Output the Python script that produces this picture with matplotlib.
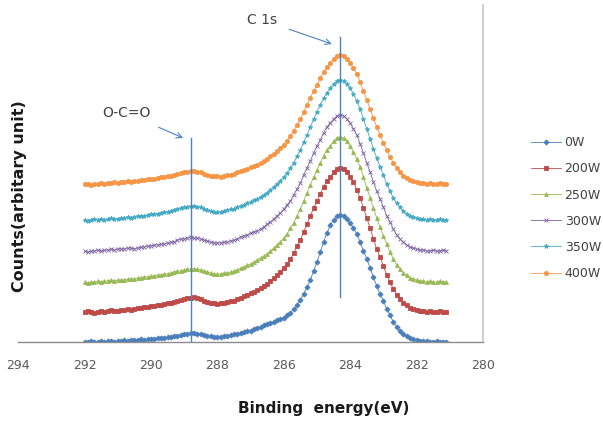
import numpy as np
import matplotlib
matplotlib.use("Agg")
import matplotlib.pyplot as plt

# Binding energy grid (eV), 292.0 -> 281.1 in 0.1 eV steps
energy = np.round(np.arange(292.0, 281.05, -0.1), 1)

labels = ["0W", "200W", "250W", "300W", "350W", "400W"]

counts_0W = [0, 0, 1, 0, 0, 1, 0, 1, 1, 0,
             1, 1, 2, 1, 2, 2, 2, 3, 2, 3,
             3, 3, 4, 4, 4, 5, 5, 6, 6, 7,
             8, 8, 9, 9, 8, 8, 7, 6, 6, 5,
             5, 5, 6, 6, 7, 8, 8, 9, 10, 11,
             11, 13, 14, 15, 17, 18, 19, 20, 22, 23,
             24, 27, 29, 33, 37, 42, 48, 55, 62, 71,
             80, 90, 100, 109, 117, 122, 126, 127, 126, 123,
             119, 114, 108, 100, 91, 83, 74, 65, 56, 48,
             41, 33, 27, 20, 15, 11, 8, 6, 4, 3,
             2, 1, 1, 1, 0, 0, 1, 0, 0, 0]

counts_200W = [30, 31, 30, 29, 30, 31, 30, 31, 32, 31,
               31, 32, 32, 33, 32, 33, 34, 34, 35, 35,
               36, 36, 37, 37, 38, 39, 39, 40, 41, 42,
               43, 44, 44, 45, 44, 43, 41, 40, 39, 39,
               38, 39, 39, 40, 41, 41, 43, 44, 46, 47,
               49, 50, 52, 54, 56, 58, 61, 64, 67, 70,
               74, 78, 83, 89, 96, 102, 110, 118, 126, 134,
               141, 148, 155, 161, 165, 170, 173, 174, 173, 170,
               165, 160, 152, 144, 134, 124, 114, 103, 93, 85,
               76, 67, 60, 53, 47, 43, 39, 37, 34, 33,
               32, 31, 31, 30, 31, 30, 30, 31, 30, 30]

counts_250W = [60, 59, 60, 60, 61, 60, 61, 61, 62, 61,
               62, 62, 62, 63, 63, 63, 64, 64, 65, 65,
               66, 66, 67, 67, 68, 68, 69, 70, 71, 71,
               72, 73, 73, 73, 73, 72, 71, 70, 69, 68,
               68, 68, 69, 69, 70, 71, 72, 74, 75, 77,
               78, 80, 82, 84, 86, 88, 91, 94, 97, 100,
               104, 108, 114, 119, 126, 133, 141, 149, 157, 165,
               172, 179, 186, 192, 196, 201, 204, 205, 204, 201,
               196, 190, 183, 175, 165, 154, 144, 134, 124, 115,
               106, 98, 90, 83, 77, 73, 69, 67, 64, 63,
               62, 61, 61, 60, 61, 60, 60, 61, 60, 60]

counts_300W = [91, 90, 91, 91, 92, 91, 92, 92, 93, 92,
               93, 93, 93, 94, 94, 93, 94, 95, 95, 96,
               96, 97, 97, 98, 98, 99, 100, 100, 102, 103,
               103, 104, 105, 104, 104, 103, 102, 101, 100, 99,
               99, 99, 100, 100, 101, 102, 103, 105, 106, 107,
               109, 110, 111, 113, 115, 118, 120, 123, 126, 129,
               133, 137, 141, 147, 153, 159, 167, 174, 181, 189,
               196, 202, 209, 215, 219, 223, 226, 227, 226, 223,
               219, 213, 207, 198, 189, 179, 170, 160, 151, 143,
               135, 126, 120, 113, 107, 103, 100, 97, 95, 94,
               93, 92, 92, 91, 91, 92, 91, 91, 92, 91]

counts_350W = [122, 121, 122, 123, 122, 123, 122, 123, 124, 123,
               123, 124, 124, 125, 124, 125, 126, 126, 126, 127,
               128, 128, 128, 129, 130, 130, 131, 132, 133, 134,
               135, 135, 136, 136, 135, 135, 133, 132, 131, 130,
               130, 130, 131, 132, 133, 133, 135, 136, 137, 139,
               140, 142, 143, 145, 147, 149, 152, 155, 158, 161,
               165, 169, 174, 179, 186, 192, 200, 207, 215, 223,
               230, 237, 244, 249, 254, 258, 261, 262, 261, 258,
               254, 248, 241, 233, 223, 213, 203, 193, 184, 175,
               167, 158, 151, 144, 139, 135, 131, 128, 126, 125,
               124, 123, 123, 122, 123, 122, 122, 123, 122, 122]

counts_400W = [158, 158, 157, 158, 158, 159, 158, 159, 159, 160,
               159, 160, 160, 161, 160, 161, 161, 162, 162, 163,
               163, 163, 164, 165, 165, 166, 166, 167, 168, 169,
               170, 170, 171, 171, 170, 170, 168, 167, 166, 166,
               166, 165, 166, 167, 167, 168, 170, 171, 172, 173,
               175, 176, 177, 179, 181, 183, 186, 188, 191, 194,
               197, 201, 206, 211, 217, 223, 230, 237, 244, 251,
               257, 264, 270, 275, 279, 283, 286, 287, 286, 283,
               279, 274, 268, 260, 251, 242, 233, 224, 215, 207,
               199, 192, 185, 179, 174, 170, 166, 164, 162, 161,
               160, 159, 159, 158, 159, 158, 158, 159, 158, 158]

series = [counts_0W, counts_200W, counts_250W, counts_300W, counts_350W, counts_400W]
colors = ["#4a7ebb", "#be4b48", "#98b954", "#7d60a0", "#46aac5", "#f79646"]
markers = ["D", "s", "^", "x", "*", "o"]
msizes = [2.6, 3.4, 2.8, 3.0, 3.4, 3.0]

xticks = [294, 292, 290, 288, 286, 284, 282, 280]

c1s_energy = 284.3
occo_energy = 288.8

fig = plt.figure(figsize=(6.03, 4.23), dpi=100)
ax = fig.add_axes([0.030, 0.1915, 0.771, 0.7967])

for vals, lab, col, mk, ms in zip(series, labels, colors, markers, msizes):
    ax.plot(energy, vals, color=col, lw=0.6, marker=mk, markersize=ms,
            markeredgewidth=0.6, label=lab)

# reference lines
ax.plot([c1s_energy, c1s_energy], [45, 305], color="#4f81bd", lw=1.0)
ax.plot([occo_energy, occo_energy], [0, 204], color="#4f81bd", lw=1.0)

ax.annotate("C 1s", xy=(284.55, 298), xytext=(286.65, 322),
            ha="center", va="center", fontsize=10, color="#404040",
            arrowprops=dict(arrowstyle="->", color="#4f81bd", lw=0.8,
                            shrinkA=7, shrinkB=0))
ax.annotate("O-C=O", xy=(289.03, 204), xytext=(290.75, 229),
            ha="center", va="center", fontsize=10, color="#404040",
            arrowprops=dict(arrowstyle="->", color="#4f81bd", lw=0.8,
                            shrinkA=8, shrinkB=0))

ax.set_xlim(294, 280)
ax.set_ylim(0, 337)
ax.set_xticks(xticks)
ax.set_xticklabels([str(t) for t in xticks], fontsize=9, color="#595959")
ax.set_yticks([])
ax.tick_params(axis="x", length=0, pad=12)

for s in ["left", "top"]:
    ax.spines[s].set_visible(False)
ax.spines["bottom"].set_color("#8c8c8c")
ax.spines["bottom"].set_linewidth(1.0)
ax.spines["right"].set_color("#d0d0d0")
ax.spines["right"].set_linewidth(1.5)

fig.text(0.537, 0.035, "Binding  energy(eV)", ha="center", va="center",
         fontsize=11, fontweight="bold", color="#1a1a1a")
fig.text(0.033, 0.537, "Counts(arbitary unit)", ha="center", va="center",
         rotation=90, fontsize=11.5, fontweight="bold", color="#1a1a1a")

leg = fig.legend(loc="center left", bbox_to_anchor=(0.87, 0.508), frameon=False,
                 fontsize=9, handlelength=2.4, handletextpad=0.3,
                 labelspacing=1.05, borderpad=0)
for t in leg.get_texts():
    t.set_color("#404040")

fig.savefig("out.png", dpi=100)
